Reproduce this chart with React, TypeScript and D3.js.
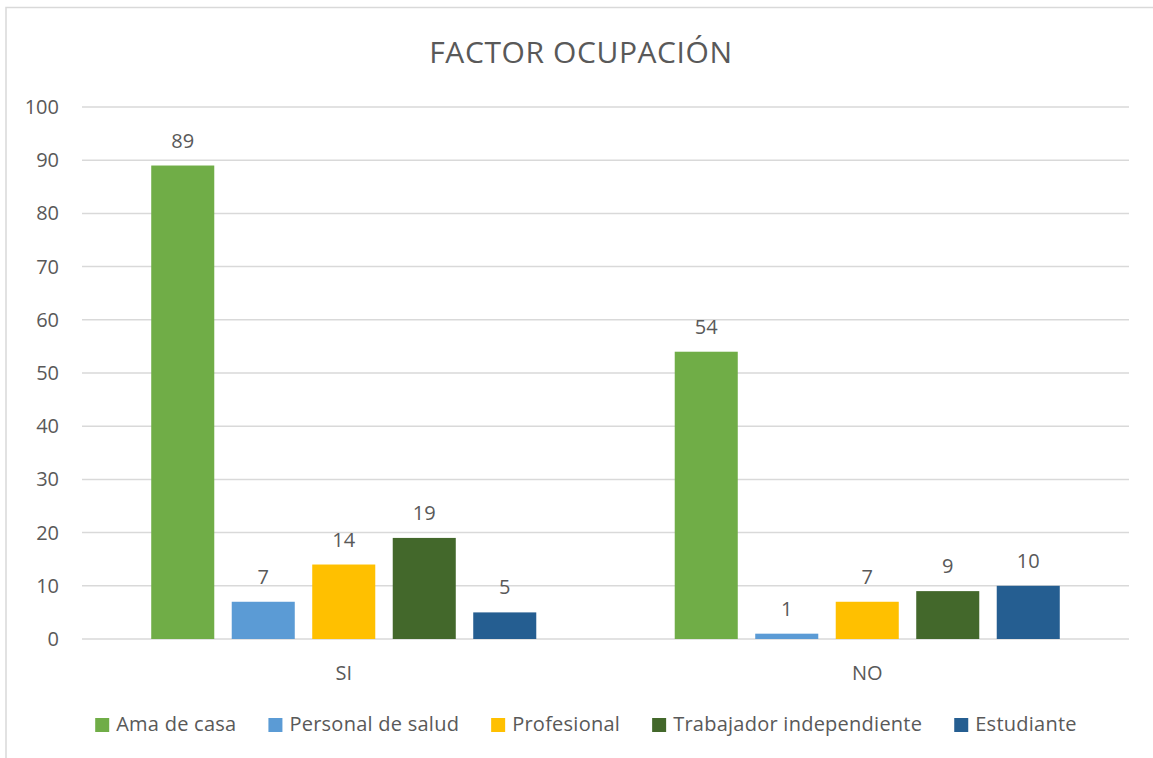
import React, { useMemo } from "react";
import * as d3 from "d3";

const categories = ["SI", "NO"];
const seriesNames = [
  "Ama de casa",
  "Personal de salud",
  "Profesional",
  "Trabajador independiente",
  "Estudiante",
];
const siValues = [89, 7, 14, 19, 5];
const noValues = [54, 1, 7, 9, 10];
const seriesColors = ["#70AD47", "#5B9BD5", "#FFC000", "#43682B", "#255E91"];
const yTicks = [0, 10, 20, 30, 40, 50, 60, 70, 80, 90, 100];
const title = "FACTOR OCUPACIÓN";

const W = 1153;
const H = 758;
const FONT = "'Open Sans', sans-serif";
const TEXT = "#595959";
const GRID = "#D9D9D9";

function measure(text: string, size: number, ls: number) {
  const c = document.createElement("canvas").getContext("2d");
  if (!c) return text.length * size * 0.5;
  c.font = `${size}px 'Open Sans'`;
  return c.measureText(text).width + ls * text.length;
}

export default function App() {
  const plot = { left: 82, right: 1129, top: 107, bottom: 639 };
  const x0 = d3.scaleBand<string>().domain(categories).range([plot.left, plot.right]).padding(0);
  const x1 = d3
    .scaleBand<string>()
    .domain(seriesNames)
    .range([0, x0.bandwidth()])
    .paddingInner(0.217)
    .paddingOuter(0.86);
  const y = d3.scaleLinear().domain([0, 100]).range([plot.bottom, plot.top]);

  const values: Record<string, number[]> = { SI: siValues, NO: noValues };

  const legendFont = 20;
  const legendLS = 0.25;
  const legend = useMemo(() => {
    const sq = 14;
    const gapText = 7;
    const gapItem = 32;
    const items = seriesNames.map((n) => ({ name: n, w: measure(n, legendFont, legendLS) }));
    const total =
      items.reduce((s, it) => s + sq + gapText + it.w, 0) + gapItem * (items.length - 1);
    let cx = 586 - total / 2;
    return items.map((it, i) => {
      const r = { ...it, x: cx, color: seriesColors[i] };
      cx += sq + gapText + it.w + gapItem;
      return r;
    });
  }, []);

  return (
    <svg
      width={W}
      height={H}
      style={{ position: "absolute", left: 0, top: 0, background: "#fff" }}
      fontFamily={FONT}
    >
      <rect x={0} y={0} width={W} height={H} fill="#fff" />
      <rect x={6} y={7.5} width={W + 20} height={H + 20} fill="none" stroke={GRID} strokeWidth={1.5} />
      <text x={581} y={63} textAnchor="middle" fontSize={30} letterSpacing={0.6} fill={TEXT}>
        {title}
      </text>
      {yTicks.map((t) => (
        <g key={t}>
          <line x1={plot.left} x2={plot.right} y1={y(t)} y2={y(t)} stroke={GRID} strokeWidth={1.5} />
          <text x={59} y={y(t) + 7} textAnchor="end" fontSize={20} fill={TEXT}>
            {t}
          </text>
        </g>
      ))}
      {categories.map((c) => (
        <g key={c} transform={`translate(${x0(c)},0)`}>
          {seriesNames.map((s, i) => {
            const v = values[c][i];
            const bx = x1(s)!;
            return (
              <g key={s}>
                <rect
                  x={bx}
                  y={y(v)}
                  width={x1.bandwidth()}
                  height={y(0) - y(v)}
                  fill={seriesColors[i]}
                />
                <text
                  x={bx + x1.bandwidth() / 2}
                  y={y(v) - 18}
                  textAnchor="middle"
                  fontSize={20}
                  fill={TEXT}
                >
                  {v}
                </text>
              </g>
            );
          })}
          <text x={x0.bandwidth() / 2} y={680} textAnchor="middle" fontSize={20} fill={TEXT}>
            {c}
          </text>
        </g>
      ))}
      {legend.map((it) => (
        <g key={it.name}>
          <rect x={it.x} y={718} width={14} height={14} fill={it.color} />
          <text x={it.x + 21} y={731} fontSize={legendFont} letterSpacing={legendLS} fill={TEXT}>
            {it.name}
          </text>
        </g>
      ))}
    </svg>
  );
}
